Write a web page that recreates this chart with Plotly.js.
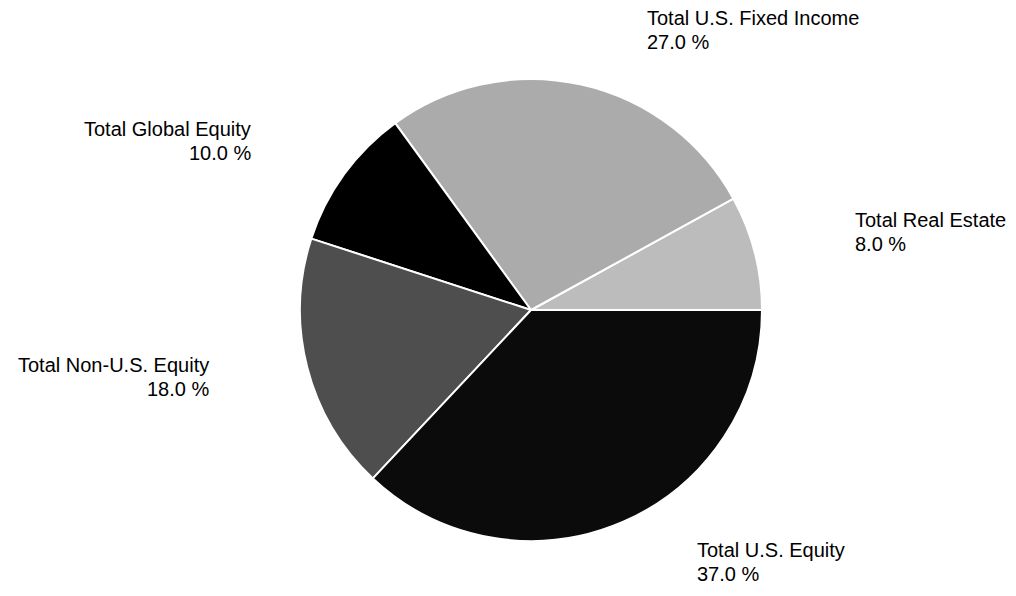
<!DOCTYPE html>
<html>
<head>
<meta charset="utf-8">
<script src="https://cdn.plot.ly/plotly-3.0.1.min.js"></script>
<style>html,body{margin:0;padding:0;background:#fff;}#chart{width:1016px;height:596px;}</style>
</head>
<body>
<div id="chart"></div>
<script>
// Data
var categories = ["Total Real Estate", "Total U.S. Fixed Income", "Total Global Equity", "Total Non-U.S. Equity", "Total U.S. Equity"];
var values = [8.0, 27.0, 10.0, 18.0, 37.0];
var sliceColors = ["#bcbcbc", "#ababab", "#000000", "#4e4e4e", "#0b0b0b"];

// Label layout (pixel anchor, alignment) — styling only
var W = 1016, H = 596;
var labelPos = [
  {x: 853, y: 220, align: "left"},
  {x: 645, y: 18, align: "left"},
  {x: 253, y: 129, align: "right"},
  {x: 211, y: 365, align: "right"},
  {x: 695, y: 550, align: "left"}
];
var lineGap = 24;

function px(x){ return x / W; }
function py(y){ return 1 - y / H; }

var cx = 531, cy = 310, r = 231;
var total = values.reduce(function(a, b){ return a + b; }, 0);
// first slice begins at 3 o'clock and runs counterclockwise
var startRotation = 90 - values[0] / total * 360;

var trace = {
  type: "pie",
  labels: categories,
  values: values,
  sort: false,
  direction: "counterclockwise",
  rotation: startRotation,
  textinfo: "none",
  hoverinfo: "label+percent",
  marker: {colors: sliceColors, line: {color: "#ffffff", width: 2}},
  domain: {x: [px(cx - r), px(cx + r)], y: [py(cy + r), py(cy - r)]},
  showlegend: false
};

var annotations = [];
categories.forEach(function(c, i){
  var p = labelPos[i];
  var common = {xref: "paper", yref: "paper", showarrow: false,
    xanchor: p.align, yanchor: "middle", align: p.align,
    font: {family: "Liberation Sans, Arial, sans-serif", size: 20, color: "#000"}};
  annotations.push(Object.assign({}, common, {x: px(p.x), y: py(p.y), text: c}));
  annotations.push(Object.assign({}, common, {x: px(p.x), y: py(p.y + lineGap), text: values[i].toFixed(1) + " %"}));
});

var layout = {
  width: W, height: H,
  margin: {l: 0, r: 0, t: 0, b: 0},
  paper_bgcolor: "#ffffff",
  plot_bgcolor: "#ffffff",
  annotations: annotations
};

Plotly.newPlot("chart", [trace], layout, {displayModeBar: false, staticPlot: true});
</script>
</body>
</html>
